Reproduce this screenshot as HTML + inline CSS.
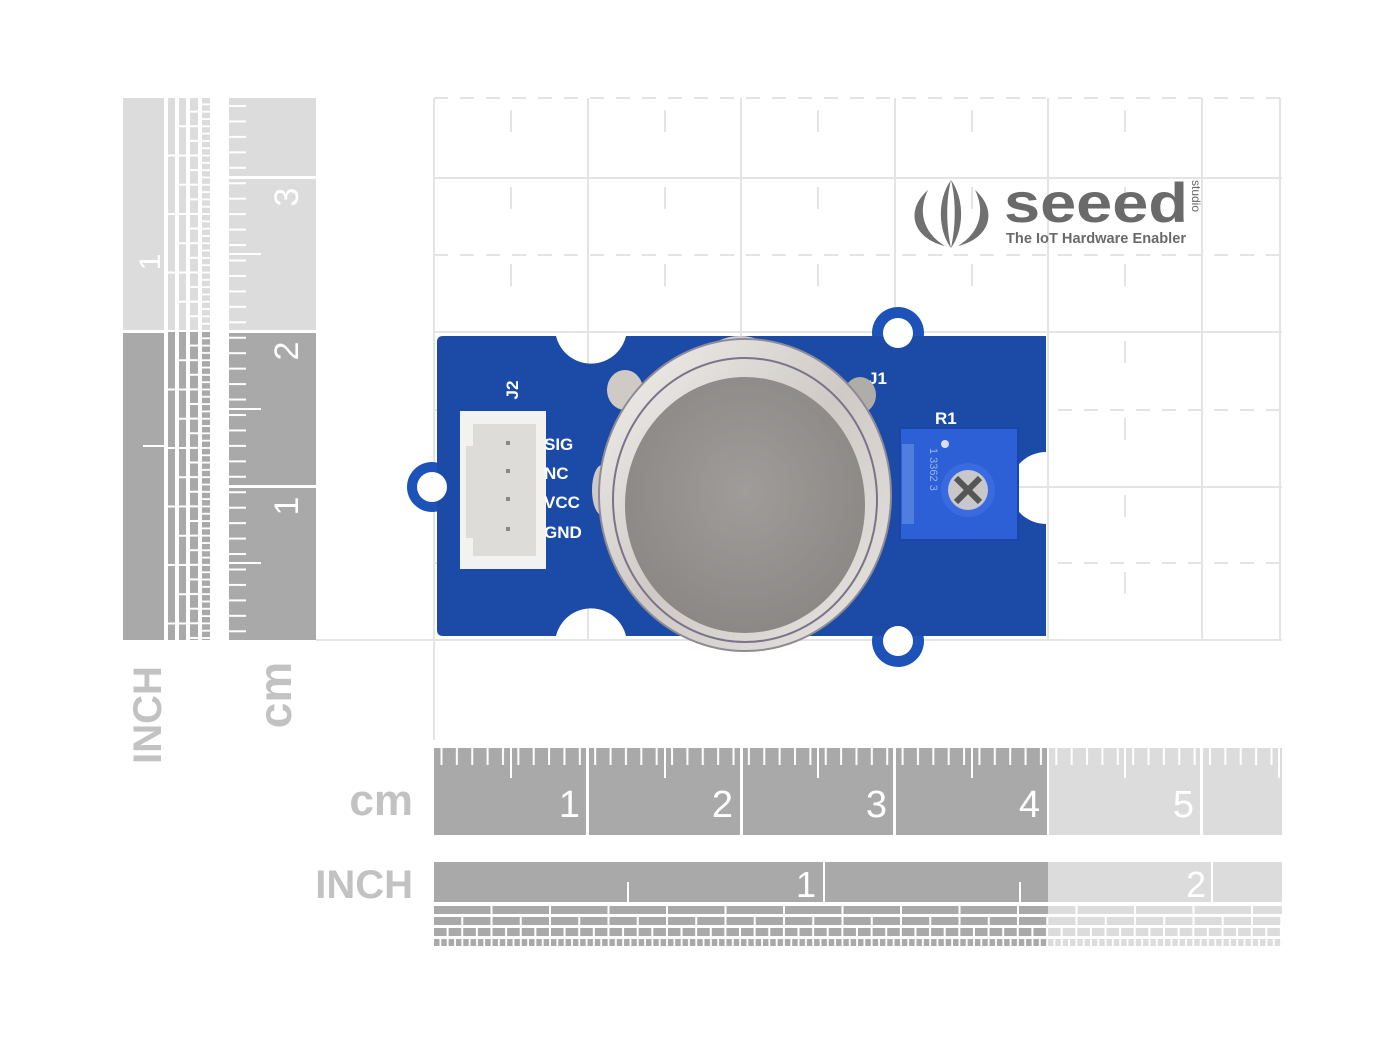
<!DOCTYPE html>
<html><head><meta charset="utf-8"><style>html,body{margin:0;padding:0;background:#fff}svg{display:block}</style></head>
<body>
<svg width="1400" height="1050" viewBox="0 0 1400 1050" xmlns="http://www.w3.org/2000/svg" font-family="Liberation Sans, sans-serif">
<defs>
 <pattern id="mmH" x="434" y="0" width="15.37" height="20" patternUnits="userSpaceOnUse"><rect x="6.5" y="0" width="2" height="20" fill="#fff"/></pattern>
 <pattern id="mmV" x="0" y="98" width="20" height="15.45" patternUnits="userSpaceOnUse"><rect x="0" y="7" width="20" height="2" fill="#fff"/></pattern>
 <pattern id="r1" x="434" y="0" width="58.5" height="20" patternUnits="userSpaceOnUse"><rect x="0" y="0" width="56.5" height="20" fill="#a9a9a9"/></pattern>
 <pattern id="r2" x="434" y="0" width="29.25" height="20" patternUnits="userSpaceOnUse"><rect x="0" y="0" width="27.25" height="20" fill="#a9a9a9"/></pattern>
 <pattern id="r3" x="434" y="0" width="14.62" height="20" patternUnits="userSpaceOnUse"><rect x="0" y="0" width="12.6" height="20" fill="#a9a9a9"/></pattern>
 <pattern id="r4" x="434" y="0" width="7.31" height="20" patternUnits="userSpaceOnUse"><rect x="0" y="0" width="5.5" height="20" fill="#a9a9a9"/></pattern>
 <pattern id="v1" x="0" y="98" width="20" height="58.5" patternUnits="userSpaceOnUse"><rect x="0" y="0" width="20" height="56.5" fill="#a9a9a9"/></pattern>
 <pattern id="v2" x="0" y="98" width="20" height="29.25" patternUnits="userSpaceOnUse"><rect x="0" y="0" width="20" height="27.25" fill="#a9a9a9"/></pattern>
 <pattern id="v3" x="0" y="98" width="20" height="14.62" patternUnits="userSpaceOnUse"><rect x="0" y="0" width="20" height="12.6" fill="#a9a9a9"/></pattern>
 <pattern id="v4" x="0" y="98" width="20" height="7.31" patternUnits="userSpaceOnUse"><rect x="0" y="0" width="20" height="5.5" fill="#a9a9a9"/></pattern>
 <radialGradient id="mesh" cx="0.5" cy="0.45" r="0.6"><stop offset="0" stop-color="#a09c99"/><stop offset="1" stop-color="#8a8683"/></radialGradient>
 <linearGradient id="ring" x1="0" y1="0" x2="1" y2="1"><stop offset="0" stop-color="#f2f0ee"/><stop offset="0.5" stop-color="#cfcac6"/><stop offset="1" stop-color="#e8e5e2"/></linearGradient>
</defs>

<g stroke="#e4e4e4" stroke-width="2" fill="none">
 <path d="M434 178H1282M434 332H1282M434 487H1282M316 640H1282"/>
 <path d="M434 98V740M588 98V640M741 98V640M895 98V640M1048 98V640M1202 98V640M1280 98V640"/>
 <path stroke-dasharray="14 12" d="M434 98H1282M434 255H1282M434 410H1282M434 563H1282"/>
 <path stroke-dasharray="22 55" d="M511 110V640M665 110V640M818 110V640M972 110V640M1125 110V640"/>
</g>

<rect x="123" y="98" width="41" height="234" fill="#dcdcdc"/>
<rect x="123" y="332" width="41" height="308" fill="#a9a9a9"/>
<rect x="123" y="330" width="41" height="3" fill="#fff"/>
<rect x="143" y="445" width="21" height="2" fill="#fff"/>
<text transform="translate(160,262) rotate(-90)" font-size="30" fill="#fff" text-anchor="middle">1</text>
<g>
 <rect x="168" y="98" width="7" height="542" fill="url(#v1)"/>
 <rect x="179" y="98" width="7" height="542" fill="url(#v2)"/>
 <rect x="190" y="98" width="8" height="542" fill="url(#v3)"/>
 <rect x="202" y="98" width="8" height="542" fill="url(#v4)"/>
 <rect x="166" y="98" width="46" height="234" fill="#fff" opacity="0.6"/>
</g>
<rect x="229" y="98" width="87" height="234" fill="#dcdcdc"/>
<rect x="229" y="332" width="87" height="308" fill="#a9a9a9"/>
<rect x="229" y="98" width="17" height="542" fill="url(#mmV)"/>
<g fill="#fff"><rect x="229" y="253" width="32" height="2"/><rect x="229" y="408" width="32" height="2"/><rect x="229" y="562" width="32" height="2"/>
<rect x="229" y="176" width="87" height="3"/><rect x="229" y="330" width="87" height="3"/><rect x="229" y="485" width="87" height="3"/></g>
<g font-size="34" fill="#fff" text-anchor="middle">
 <text transform="translate(298,197) rotate(-90)">3</text>
 <text transform="translate(298,351) rotate(-90)">2</text>
 <text transform="translate(298,506) rotate(-90)">1</text>
</g>
<text transform="translate(161,715) rotate(-90)" font-size="40" font-weight="bold" fill="#c2c2c2" text-anchor="middle">INCH</text>
<text transform="translate(291,695) rotate(-90)" font-size="46" font-weight="bold" fill="#c2c2c2" text-anchor="middle">cm</text>

<rect x="434" y="748" width="614" height="87" fill="#a9a9a9"/>
<rect x="1048" y="748" width="234" height="87" fill="#dcdcdc"/>
<rect x="434" y="748" width="848" height="17" fill="url(#mmH)"/>
<g fill="#fff">
 <rect x="510" y="748" width="2" height="30"/><rect x="664" y="748" width="2" height="30"/><rect x="817" y="748" width="2" height="30"/><rect x="971" y="748" width="2" height="30"/><rect x="1124" y="748" width="2" height="30"/><rect x="1278" y="748" width="2" height="30"/>
 <rect x="586" y="748" width="3" height="87"/><rect x="740" y="748" width="3" height="87"/><rect x="893" y="748" width="3" height="87"/><rect x="1047" y="748" width="2" height="87"/><rect x="1200" y="748" width="3" height="87"/>
</g>
<g font-size="38" fill="#fff" text-anchor="end">
 <text x="580" y="817">1</text><text x="733" y="817">2</text><text x="887" y="817">3</text><text x="1040" y="817">4</text><text x="1194" y="817">5</text>
</g>
<text x="413" y="815" font-size="44" font-weight="bold" fill="#c2c2c2" text-anchor="end">cm</text>

<rect x="434" y="862" width="614" height="40" fill="#a9a9a9"/>
<rect x="1048" y="862" width="234" height="40" fill="#dcdcdc"/>
<g fill="#fff"><rect x="823" y="862" width="2" height="40"/><rect x="1211" y="862" width="2" height="40"/><rect x="627" y="882" width="2" height="20"/><rect x="1019" y="882" width="2" height="20"/></g>
<text x="816" y="897" font-size="36" fill="#fff" text-anchor="end">1</text>
<text x="1206" y="897" font-size="36" fill="#fff" text-anchor="end">2</text>
<rect x="434" y="906" width="848" height="8" fill="url(#r1)"/>
<rect x="434" y="917" width="848" height="8" fill="url(#r2)"/>
<rect x="434" y="928" width="848" height="8" fill="url(#r3)"/>
<rect x="434" y="939" width="848" height="7" fill="url(#r4)"/>
<rect x="1048" y="904" width="234" height="44" fill="#fff" opacity="0.6"/>
<text x="413" y="898" font-size="40" font-weight="bold" fill="#c2c2c2" text-anchor="end">INCH</text>

<g fill="#707070">
 <path d="M928 190 C905 210 912 238 945 246 C922 232 918 210 928 190Z"/>
 <path d="M975 190 C998 210 991 238 958 246 C981 232 985 210 975 190Z"/>
 <path d="M951 180 C937 200 938 230 951 248 C946 225 946 200 951 180Z"/>
 <path d="M951 180 C965 200 964 230 951 248 C956 225 956 200 951 180Z"/>
</g>
<text x="1004" y="222" font-size="56" font-weight="bold" fill="#6a6a6a" textLength="184" lengthAdjust="spacingAndGlyphs">seeed</text>
<text transform="translate(1192,180) rotate(90)" font-size="12" fill="#6a6a6a">studio</text>
<text x="1006" y="243" font-size="15" font-weight="bold" fill="#6a6a6a" textLength="180" lengthAdjust="spacingAndGlyphs">The IoT Hardware Enabler</text>

<g>
 <circle cx="898" cy="333" r="26" fill="#1d52b8"/>
 <circle cx="898" cy="641" r="26" fill="#1d52b8"/>
 <circle cx="432" cy="487" r="25" fill="#1d52b8"/>
 <path d="M443 336 H556 A36 36 0 0 0 626 336 H1046 V452 A36 36 0 0 0 1046 524 V636 H626 A36 36 0 0 0 556 636 H443 Q437 636 437 630 V342 Q437 336 443 336Z" fill="#1b4ba6"/>
 <circle cx="898" cy="333" r="15" fill="#fff"/>
 <circle cx="898" cy="641" r="15" fill="#fff"/>
 <circle cx="432" cy="487" r="15" fill="#fff"/>
</g>
<rect x="460" y="411" width="86" height="158" fill="#f2f2f0"/>
<path d="M473 424 H536 V556 H473 V538 H466 V446 H473Z" fill="#dedcd8"/>
<g fill="#888"><rect x="506" y="441" width="4" height="4"/><rect x="506" y="469" width="4" height="4"/><rect x="506" y="497" width="4" height="4"/><rect x="506" y="527" width="4" height="4"/></g>
<g font-size="17" font-weight="bold" fill="#fff">
 <text x="544" y="450">SIG</text><text x="544" y="479">NC</text><text x="544" y="508">VCC</text><text x="544" y="538">GND</text>
 <text transform="translate(518,390) rotate(-90)" text-anchor="middle">J2</text>
 <text x="868" y="384">J1</text>
 <text x="935" y="424">R1</text>
</g>
<ellipse cx="740" cy="350" rx="28" ry="14" fill="#d0ccc8"/>
<ellipse cx="625" cy="390" rx="18" ry="20" fill="#cfcac6"/>
<ellipse cx="860" cy="395" rx="16" ry="18" fill="#b0aca8"/>
<ellipse cx="602" cy="490" rx="10" ry="25" fill="#cfcac6"/>
<ellipse cx="745" cy="495" rx="146" ry="156" fill="url(#ring)" stroke="#8e8a96" stroke-width="2"/>
<ellipse cx="745" cy="500" rx="132" ry="142" fill="none" stroke="#7a7488" stroke-width="2"/>
<ellipse cx="745" cy="505" rx="120" ry="128" fill="url(#mesh)"/>
<rect x="900" y="428" width="118" height="112" fill="#2d5fd6" stroke="#1d44a8" stroke-width="2"/>
<rect x="902" y="444" width="12" height="80" fill="#4f7ee0"/>
<circle cx="968" cy="490" r="27" fill="#3a6ae0"/>
<circle cx="968" cy="490" r="20" fill="#c8c8cc"/>
<path d="M956 478 L980 502 M980 478 L956 502" stroke="#555" stroke-width="6"/>
<circle cx="945" cy="444" r="4" fill="#dde"/>
<g font-size="11" fill="#9bb4ee"><text transform="translate(930,448) rotate(90)">1  3362  3</text></g>
</svg>
</body></html>
